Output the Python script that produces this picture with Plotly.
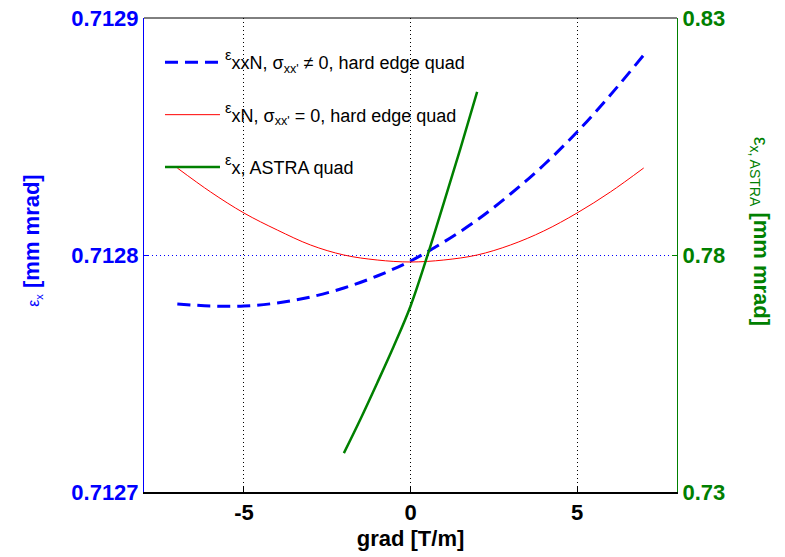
import plotly.graph_objects as go

# data
grad = [-7, -6, -5, -4, -3, -2, -1, 0, 1, 2, 3, 4, 5, 6, 7]
eps_xxN_sigma = [0.71277932, 0.71277848, 0.71277848, 0.71277975, 0.71278228,
                 0.71278608, 0.71279114, 0.71279747, 0.71280549, 0.71281477,
                 0.71282574, 0.71283798, 0.71285190, 0.71286751, 0.71288439]
eps_xN_zero = [0.71283671, 0.71282659, 0.71281772, 0.71281055, 0.71280422,
               0.71280000, 0.71279789, 0.71279705, 0.71279789, 0.71280000,
               0.71280422, 0.71281013, 0.71281772, 0.71282659, 0.71283671]
grad_astra = [-2, -1.5, -1, -0.5, 0, 0.5, 1, 1.5, 2]
eps_astra = [0.7382, 0.7454, 0.7530, 0.7608, 0.7692, 0.7797, 0.7910, 0.8025, 0.8144]

x_ticks = [-5, 0, 5]
left_ticks = [0.7127, 0.7128, 0.7129]
right_ticks = [0.73, 0.78, 0.83]

FONT = "Liberation Sans, Arial, sans-serif"
BLUE = "#0000ff"
RED = "#ff0000"
GREEN = "#008000"
EPS_SUP = "<span style='font-size:21px'><sup>ε</sup></span>"

fig = go.Figure()
fig.add_trace(go.Scatter(
    x=grad, y=eps_xxN_sigma, mode="lines", legendgroup="a",
    line=dict(color=BLUE, width=3, dash="13px,7px", shape="spline"),
    name=EPS_SUP + "xxN, σ<sub>xx'</sub> ≠ 0, hard edge quad"))
fig.add_trace(go.Scatter(
    x=grad, y=eps_xN_zero, mode="lines", legendgroup="b",
    line=dict(color=RED, width=1, shape="spline"),
    name=EPS_SUP + "xN, σ<sub>xx'</sub> = 0, hard edge quad"))
fig.add_trace(go.Scatter(
    x=grad_astra, y=eps_astra, mode="lines", legendgroup="c", yaxis="y2",
    line=dict(color=GREEN, width=2.5, shape="spline"),
    name=EPS_SUP + "x, ASTRA quad"))

fig.update_layout(
    width=785, height=557,
    margin=dict(l=136, r=116, t=10, b=73),
    paper_bgcolor="white", plot_bgcolor="white",
    font=dict(family=FONT, color="black"),
    showlegend=True,
    legend=dict(x=0.03, y=0.945, xanchor="left", yanchor="top",
                bgcolor="rgba(0,0,0,0)", font=dict(size=18, family=FONT),
                tracegroupgap=26, itemwidth=55),
    xaxis=dict(range=[-8, 8], tickvals=x_ticks, ticktext=[str(v) for v in x_ticks],
               automargin=False, ticklabeloverflow="allow",
               showline=True, linecolor="black", linewidth=2,
               ticks="inside", ticklen=5, tickcolor="black",
               showgrid=True, gridcolor="black", griddash="1px,3px", gridwidth=1,
               zeroline=False,
               tickfont=dict(size=22, family=FONT, weight="bold"),
               title=dict(text="<b>grad [T/m]</b>", font=dict(size=22, family=FONT), standoff=6)),
    yaxis=dict(range=[0.7127, 0.7129], tickvals=left_ticks,
               ticktext=["0.7127", "0.7128", "0.7129"],
               automargin=False, ticklabeloverflow="allow",
               showline=True, linecolor=BLUE, linewidth=1,
               ticks="inside", ticklen=5, tickcolor=BLUE,
               showgrid=True, gridcolor=BLUE, griddash="1px,3px", gridwidth=1,
               zeroline=False,
               tickfont=dict(size=22, family=FONT, color=BLUE, weight="bold")),
    yaxis2=dict(range=[0.73, 0.83], tickvals=right_ticks,
                ticktext=["0.73", "0.78", "0.83"],
                overlaying="y", side="right", automargin=False, ticklabeloverflow="allow",
                showline=True, linecolor=GREEN, linewidth=1,
                ticks="inside", ticklen=5, tickcolor=GREEN,
                showgrid=False, zeroline=False,
                tickfont=dict(size=22, family=FONT, color=GREEN, weight="bold")),
    shapes=[dict(type="line", xref="paper", yref="paper", x0=0, x1=1, y0=1, y1=1,
                 line=dict(color="black", width=1))],
    annotations=[
        dict(text="<span style='font-size:16px;font-weight:normal'>ε<sub>x</sub></span> <b>[mm mrad]</b>",
             xref="paper", yref="paper", x=-0.21, y=0.53, textangle=-90, showarrow=False,
             font=dict(size=22, family=FONT, color=BLUE), xanchor="center", yanchor="middle"),
        dict(text="<span style='font-size:20px;font-weight:normal'>ε<sub>x, ASTRA</sub></span> <b>[mm mrad]</b>",
             xref="paper", yref="paper", x=1.156, y=0.551, textangle=90, showarrow=False,
             font=dict(size=22, family=FONT, color=GREEN), xanchor="center", yanchor="middle"),
    ],
)

fig.write_html("out.html")
